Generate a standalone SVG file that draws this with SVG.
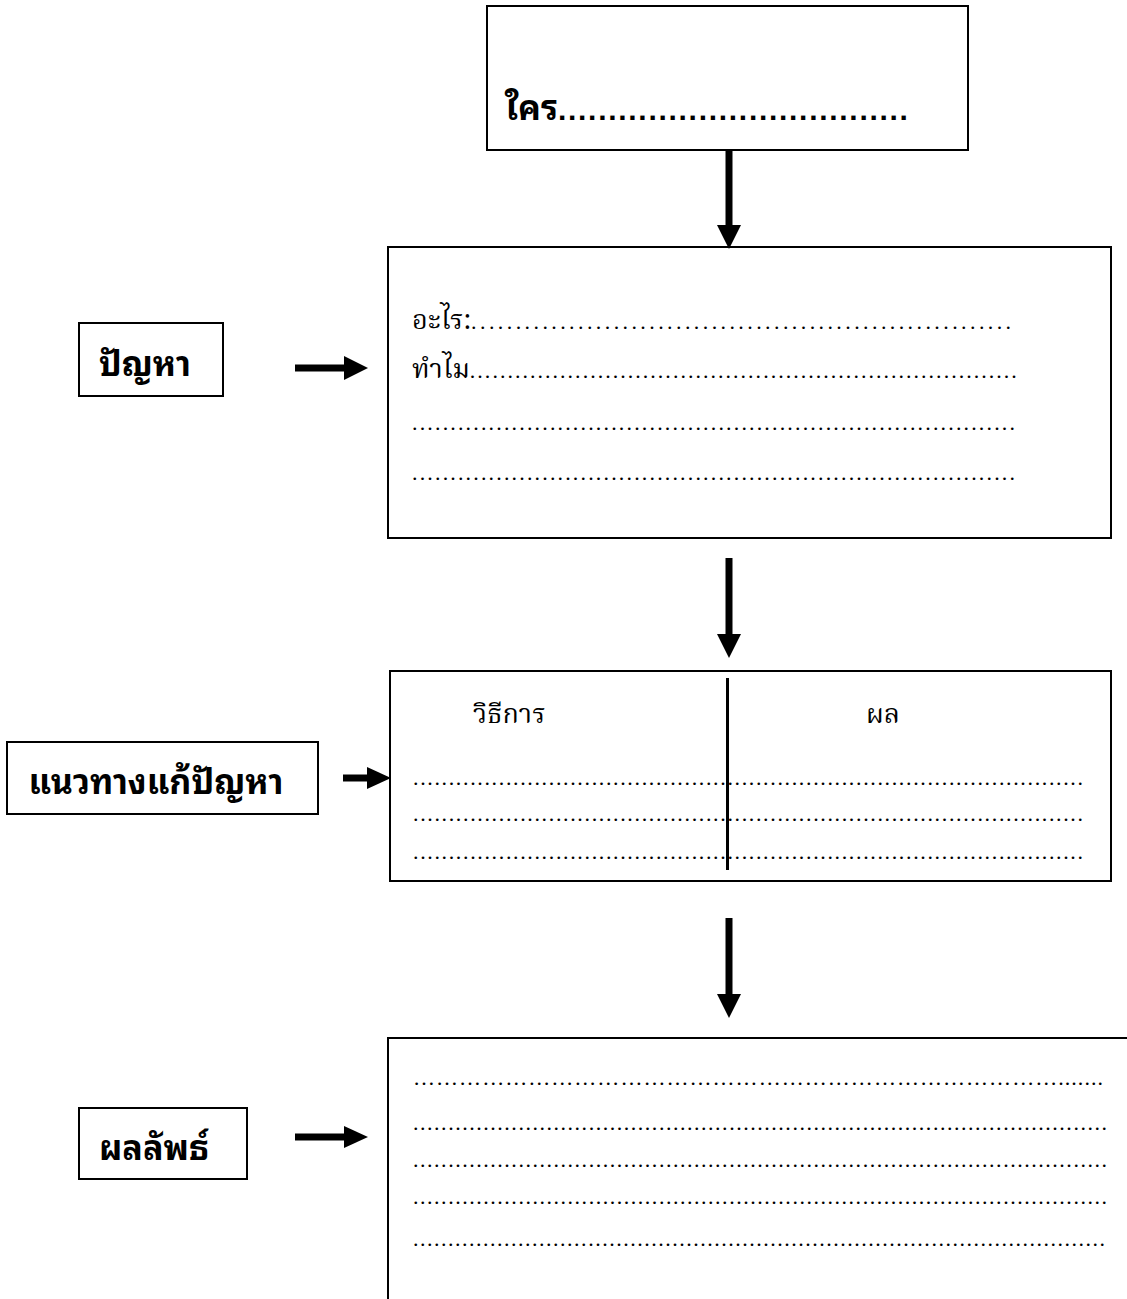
<svg xmlns="http://www.w3.org/2000/svg" width="1127" height="1299" viewBox="0 0 1127 1299">
<style>
.box{fill:#fff;stroke:#000;stroke-width:2}
.lbl{font-family:"Noto Sans Thai Looped","Noto Serif Thai","Loma","Garuda","Norasi","Noto Sans Thai","Noto Sans",sans-serif;font-weight:bold;font-size:34px;fill:#000}
.reg{font-family:"Noto Serif Thai","Norasi","Kinnari","Liberation Serif","DejaVu Serif",serif;font-size:27px;fill:#000}
.dots{font-family:"Liberation Serif",serif;font-size:22px;fill:#000}
.bdots{font-family:"Liberation Sans",sans-serif;font-weight:bold;font-size:30px;fill:#000}
.arr{stroke:#000;stroke-width:7;fill:none}
</style>
<defs>
<marker id="ah" markerUnits="userSpaceOnUse" markerWidth="24" markerHeight="24" refX="0" refY="12" orient="auto">
<path d="M0,0 L24,12 L0,24 Z" fill="#000"/>
</marker>
<marker id="ahs" markerUnits="userSpaceOnUse" markerWidth="24" markerHeight="22" refX="0" refY="11" orient="auto">
<path d="M0,0 L24,11 L0,22 Z" fill="#000"/>
</marker>
</defs>
<rect width="1127" height="1299" fill="#fff"/>
<g id="who">
<rect class="box" x="487" y="6" width="481" height="144"/>
<text class="lbl" x="505" y="120">ใคร<tspan class="bdots" textLength="350" lengthAdjust="spacing">...................................</tspan></text>
</g>
<g id="problem-label">
<rect class="box" x="79" y="323" width="144" height="73"/>
<text class="lbl" x="145" y="376" text-anchor="middle">ปัญหา</text>
</g>
<g id="problem">
<rect class="box" x="388" y="247" width="723" height="291"/>
<text class="reg" x="412" y="329">อะไร:<tspan class="dots" textLength="540" lengthAdjust="spacing">.............................................................</tspan></text>
<text class="reg" x="412" y="378">ทำไม<tspan class="dots" textLength="547" lengthAdjust="spacing">.........................................................................</tspan></text>
<text class="dots" x="412" y="430" textLength="603" lengthAdjust="spacing">...............................................................................</text>
<text class="dots" x="412" y="480" textLength="603" lengthAdjust="spacing">...............................................................................</text>
</g>
<g id="solution-label">
<rect class="box" x="7" y="742" width="311" height="72"/>
<text class="lbl" x="156" y="794" text-anchor="middle">แนวทางแก้ปัญหา</text>
</g>
<g id="solution">
<rect class="box" x="390" y="671" width="721" height="210"/>
<line x1="727.5" y1="678" x2="727.5" y2="870" stroke="#000" stroke-width="3"/>
<text class="reg" x="473" y="723">วิธีการ</text>
<text class="reg" x="866" y="723">ผล</text>
<text class="dots" x="413" y="785" textLength="670" lengthAdjust="spacing">..............................................................................................</text>
<text class="dots" x="413" y="821" textLength="670" lengthAdjust="spacing">..............................................................................................</text>
<text class="dots" x="413" y="859" textLength="670" lengthAdjust="spacing">..............................................................................................</text>
</g>
<g id="result-label">
<rect class="box" x="79" y="1108" width="168" height="71"/>
<text class="lbl" x="154" y="1160" text-anchor="middle">ผลลัพธ์</text>
</g>
<g id="result">
<rect class="box" x="388" y="1038" width="800" height="300"/>
<text class="dots" x="413" y="1085" textLength="690" lengthAdjust="spacing">………………………………………………………………………….......</text>
<text class="dots" x="413" y="1130" textLength="694" lengthAdjust="spacing">...................................................................................................</text>
<text class="dots" x="413" y="1167" textLength="694" lengthAdjust="spacing">...................................................................................................</text>
<text class="dots" x="413" y="1204" textLength="694" lengthAdjust="spacing">...................................................................................................</text>
<text class="dots" x="413" y="1246" textLength="692" lengthAdjust="spacing">...................................................................................................</text>
</g>
<g id="connectors">
<line class="arr" x1="729" y1="150" x2="729" y2="225" marker-end="url(#ah)"/>
<line class="arr" x1="729" y1="558" x2="729" y2="634" marker-end="url(#ah)"/>
<line class="arr" x1="729" y1="918" x2="729" y2="994" marker-end="url(#ah)"/>
<line class="arr" x1="295" y1="368" x2="344" y2="368" marker-end="url(#ah)"/>
<line class="arr" x1="343" y1="778" x2="367" y2="778" marker-end="url(#ahs)"/>
<line class="arr" x1="295" y1="1137" x2="344" y2="1137" marker-end="url(#ahs)"/>
</g>
</svg>
